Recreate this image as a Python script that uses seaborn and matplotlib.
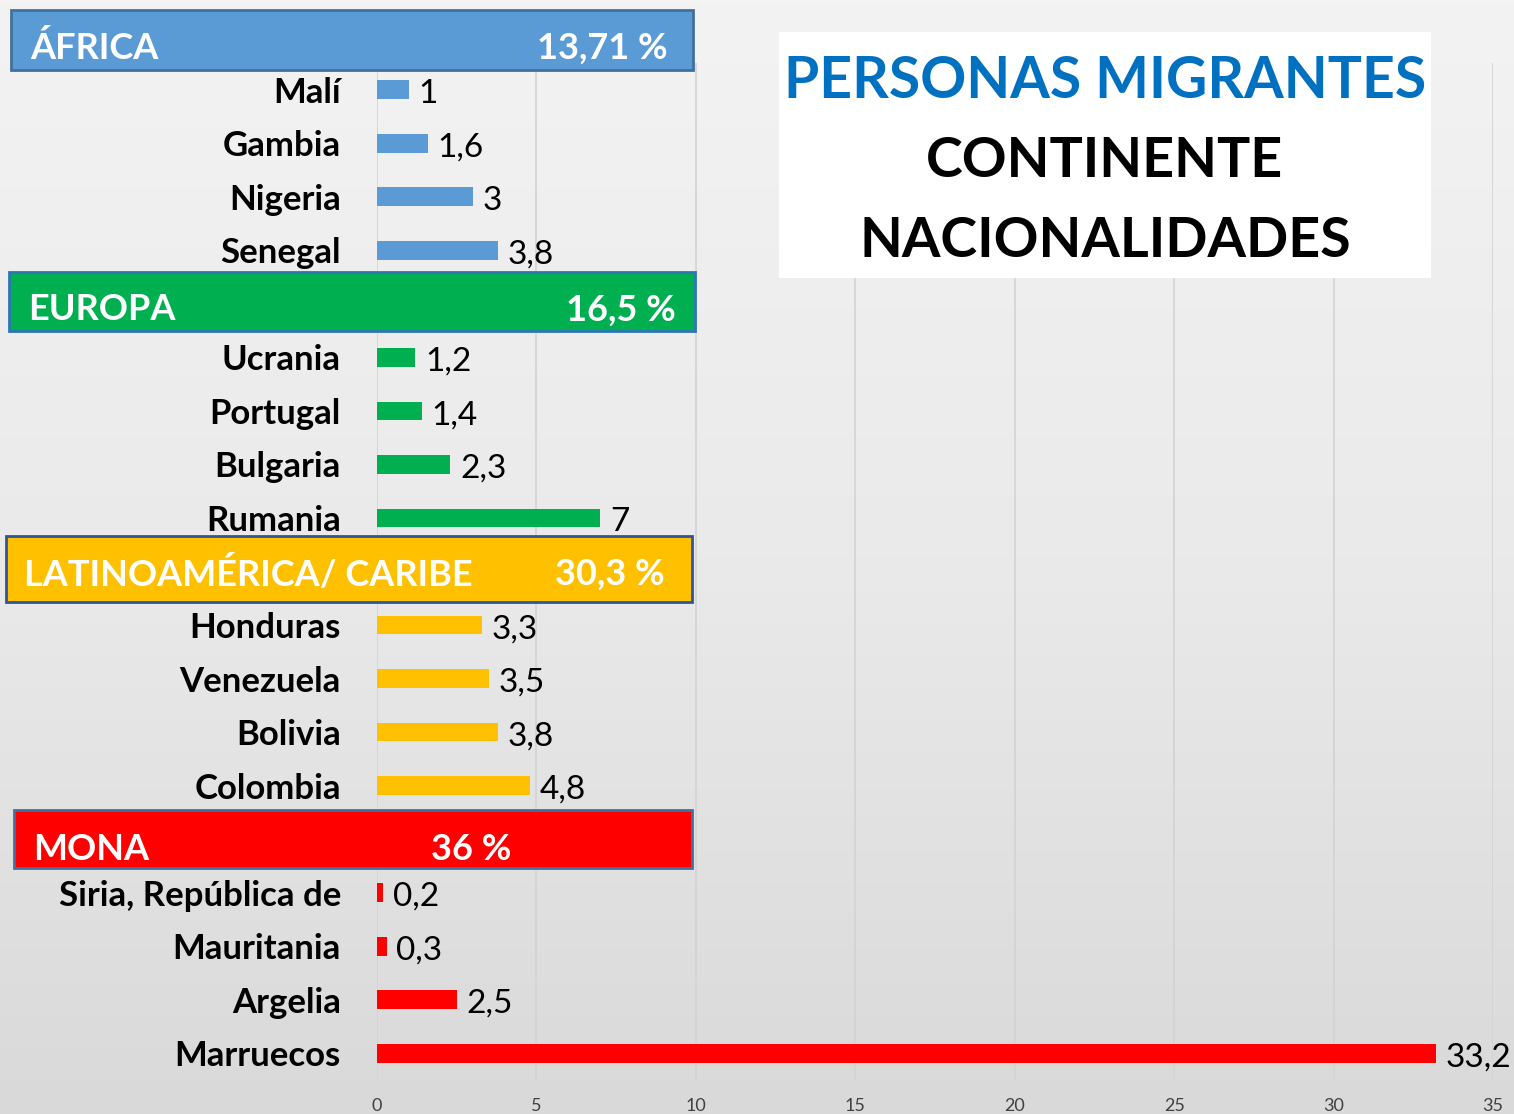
import numpy as np
import pandas as pd
import matplotlib
matplotlib.use("Agg")
import matplotlib.pyplot as plt
from matplotlib.patches import Rectangle
from matplotlib.colors import LinearSegmentedColormap
import seaborn as sns

# ---------------- data ----------------
africa = ["Malí", "Gambia", "Nigeria", "Senegal"]
africa_vals = [1, 1.6, 3, 3.8]
europa = ["Ucrania", "Portugal", "Bulgaria", "Rumania"]
europa_vals = [1.2, 1.4, 2.3, 7]
latam = ["Honduras", "Venezuela", "Bolivia", "Colombia"]
latam_vals = [3.3, 3.5, 3.8, 4.8]
mona = ["Siria, República de", "Mauritania", "Argelia", "Marruecos"]
mona_vals = [0.2, 0.3, 2.5, 33.2]

regions = ["ÁFRICA", "EUROPA", "LATINOAMÉRICA/ CARIBE", "MONA"]
region_pcts = ["13,71 %", "16,5 %", "30,3 %", "36 %"]
region_colors = ["#5B9BD5", "#00B050", "#FFC000", "#FF0000"]
region_edges = ["#41719C", "#2E75B6", "#2F5597", "#41719C"]

x_ticks = [0, 5, 10, 15, 20, 25, 30, 35]

title_lines = ["PERSONAS MIGRANTES", "CONTINENTE", "NACIONALIDADES"]

# ---------------- dataframe ----------------
groups = [africa, europa, latam, mona]
vals = [africa_vals, europa_vals, latam_vals, mona_vals]
rows = []
for reg, cs, vs in zip(regions, groups, vals):
    for c, v in zip(cs, vs):
        rows.append({"country": c, "value": v, "region": reg})
df = pd.DataFrame(rows)

# order with blank separator slots
order = africa + [" "] + europa + ["  "] + latam + ["   "] + mona

# ---------------- figure ----------------
W, H = 1514, 1114
fig = plt.figure(figsize=(W / 100, H / 100), dpi=100)
FONT = ["Lato", "DejaVu Sans"]
plt.rcParams["font.family"] = FONT

def fx(x):
    return x / W

def fy(y):
    return 1 - y / H

# background gradient
bg = fig.add_axes([0, 0, 1, 1], zorder=-10)
grad = np.linspace(0, 1, 256).reshape(-1, 1)
cmap_bg = LinearSegmentedColormap.from_list("bg", ["#F3F3F3", "#EAEAEA", "#D9D9D9"])
bg.imshow(grad, aspect="auto", cmap=cmap_bg, extent=[0, 1, 0, 1])
bg.axis("off")

ax = fig.add_axes([fx(377), fy(1080), fx(1493) - fx(377), fy(63) - fy(1080)], zorder=1)
ax.set_facecolor("none")

sns.barplot(data=df, x="value", y="country", hue="region", order=order,
            hue_order=regions, palette=region_colors, dodge=False,
            width=0.35, legend=False, ax=ax, saturation=1)

ax.set_xlim(0, 35)
ax.set_xticks(x_ticks)
ax.set_xticklabels([str(t) for t in x_ticks], fontsize=13, color="#404040")
ax.set_xlabel("")
ax.set_ylabel("")
ax.tick_params(axis="x", length=0, pad=13)
ax.tick_params(axis="y", length=0, pad=26)
for lab in ax.get_yticklabels():
    lab.set_fontsize(25)
    lab.set_fontweight("bold")
    lab.set_color("black")
ax.grid(axis="x", color="#D3D3D3", linewidth=1.2)
ax.grid(axis="y", visible=False)
ax.set_axisbelow(True)
for s in ax.spines.values():
    s.set_visible(False)

def fmt(v):
    return f"{v:g}".replace(".", ",")

for cont in ax.containers:
    anns = ax.bar_label(cont, labels=[fmt(v) for v in cont.datavalues], padding=7,
                        fontsize=24, color="black")
    for a in anns:
        a.xyann = (a.xyann[0], a.xyann[1] - 3)

# ---------------- region headers ----------------
header_boxes = [(11, 10, 693, 70), (9, 272, 695, 331), (6, 536, 692, 602), (14, 810, 692, 868)]
name_x = [30, 28, 24, 33]
name_y = [48, 310, 574, 849]
pct_pos = [(668, "right"), (676, "right"), (665, "right"), (471, "center")]
for i in range(4):
    x0, y0, x1, y1 = header_boxes[i]
    fig.patches.append(Rectangle((fx(x0), fy(y1)), fx(x1) - fx(x0), fy(y0) - fy(y1),
                                 transform=fig.transFigure, facecolor=region_colors[i],
                                 edgecolor=region_edges[i], linewidth=2, zorder=5))
    fig.text(fx(name_x[i]), fy(name_y[i]), regions[i], color="white", fontsize=26,
             fontweight="bold", ha="left", va="center", zorder=6)
    px, ha = pct_pos[i]
    fig.text(fx(px), fy(name_y[i]), region_pcts[i], color="white", fontsize=26,
             fontweight="bold", ha=ha, va="center", zorder=6)

# ---------------- title box ----------------
fig.patches.append(Rectangle((fx(779), fy(278)), fx(1431) - fx(779), fy(32) - fy(278),
                             transform=fig.transFigure, facecolor="white",
                             edgecolor="none", zorder=5))
fig.text(fx(1105), fy(81), title_lines[0], color="#0070C0", fontsize=41,
         fontweight="bold", ha="center", va="center", zorder=6)
fig.text(fx(1105), fy(161), title_lines[1], color="black", fontsize=40,
         fontweight="bold", ha="center", va="center", zorder=6)
fig.text(fx(1105), fy(241), title_lines[2], color="black", fontsize=40,
         fontweight="bold", ha="center", va="center", zorder=6)

fig.savefig("out.png", dpi=100)
